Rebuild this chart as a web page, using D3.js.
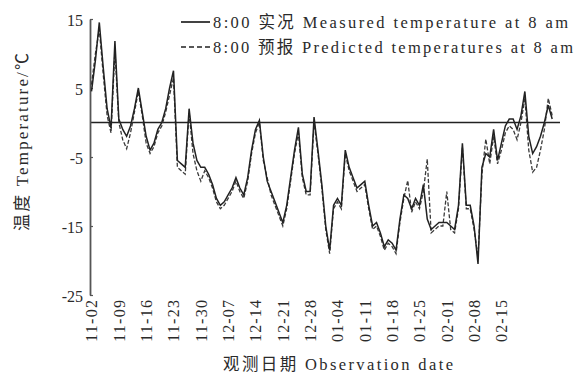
<!DOCTYPE html>
<html>
<head>
<meta charset="utf-8">
<script src="https://cdn.jsdelivr.net/npm/d3@7/dist/d3.min.js"></script>
<style>
  html, body { margin: 0; padding: 0; background: #fff; }
  svg { display: block; }
  text { fill: #2a2a2a; }
</style>
</head>
<body>
<svg id="chart" width="576" height="375"></svg>
<script>
// Daily 8:00 temperatures (°C), one value per day starting 11-02
const startDate = "2010-11-02";
const measured = [
  4.5, 9, 14.5, 8, 2, -0.8, 11.8, 0.5, -1, -2,
  -0.5, 2, 5, 1.5, -2, -4, -3, -1, 0, 2,
  5, 7.5, -5.5, -6, -6.5, 2, -3, -5.5, -6.5, -6.5,
  -7.5, -9, -11, -12, -11.5, -10.5, -9.5, -8, -9.5, -10.5,
  -8, -4, -1, 0.3, -5, -8.5, -10, -11.5, -13, -14.5,
  -12, -8, -4, -0.7, -7.5, -10, -10, 0.8, -4, -9,
  -15, -18.5, -12, -11, -12, -4, -6.5, -8, -9.5, -9,
  -8.5, -12, -15, -14.5, -16, -18, -17, -17.5, -18.5, -14,
  -10.5, -11, -12.5, -11, -12, -9, -14, -15.5, -15, -14.5,
  -14.5, -14.5, -15, -15.5, -12, -3, -12, -12, -15, -20.5,
  -6.5, -4.5, -5, -1, -5.5, -3, -0.5, 0.5, 0.5, -1,
  1, 4.5, -2, -4.5, -3.5, -2, 0, 2.5, 0.5
];
const predicted = [
  5.5, 10, 13.5, 7, 1, -1.5, 10.5, 0, -2.5, -3.8,
  -1.5, 1.5, 4.5, 1, -3, -4.5, -3.5, -1.5, -0.5, 1.5,
  4, 6.5, -6.5, -7, -7.5, 1.5, -4.5, -7, -8.5, -7,
  -8, -9.5, -11.5, -12.5, -12, -11, -10, -8.5, -10, -11,
  -8.5, -4.5, -1.5, 0, -5.5, -8, -10.5, -12, -13.5, -15,
  -12.5, -8.5, -4.5, -1.5, -8, -10.5, -10.5, 0, -4.5, -9.5,
  -15.5, -19, -12.5, -11.5, -12.5, -4.5, -7, -8.5, -10, -9.5,
  -9, -12.5, -15.5, -15, -16.5, -18.5, -17.5, -18, -19, -14.5,
  -11, -8.4, -13, -11.5, -12.5, -10, -5.3, -16, -15.5, -15,
  -15, -10, -15.5, -16, -12.5, -3.5, -12.5, -12.5, -15.5, -19.5,
  -7.5, -2.4, -6, -2, -6, -4, -1.5, -0.5, -1, -2.5,
  0, 3.5, -4, -7.2, -6.5, -4, -1, 3.5, 1
];
const xTickLabels = ["11-02","11-09","11-16","11-23","11-30","12-07","12-14",
  "12-21","12-28","01-04","01-11","01-18","01-25","02-01","02-08","02-15"];
const yTickValues = [15, 5, -5, -15, -25];
const legendLabels = ["8:00 实况 Measured temperature at 8 am",
  "8:00 预报 Predicted temperatures at 8 am"];
const yTitle = "温度 Temperature/℃";
const xTitle = "观测日期 Observation date";

const svg = d3.select("#chart");
const parse = d3.timeParse("%Y-%m-%d");
const t0 = parse(startDate);
const dayOf = i => d3.timeDay.offset(t0, i);
const labelDate = s => {
  const m = +s.slice(0, 2);
  return parse((m >= 11 ? "2010-" : "2011-") + s);
};

const x = d3.scaleTime()
  .domain([t0, d3.timeDay.offset(t0, 120)])
  .range([91.5, 560]);
const y = d3.scaleLinear().domain([-25, 15]).range([295, 19]);

const serif = "'Liberation Serif', 'Noto Sans CJK SC', serif";

// zero reference line
svg.append("line")
  .attr("x1", x.range()[0] - 1.5).attr("x2", x.range()[1])
  .attr("y1", y(0)).attr("y2", y(0))
  .attr("stroke", "#222").attr("stroke-width", 1.7);

// left axis
const yAxis = d3.axisLeft(y).tickValues(yTickValues).tickSizeInner(-3).tickSizeOuter(0)
  .tickFormat(d => d < 0 ? "-" + Math.abs(d) : d);
const gy = svg.append("g").attr("transform", "translate(90,0)").call(yAxis);
gy.select(".domain").attr("stroke", "#555").attr("stroke-width", 1.8);
gy.selectAll(".tick line").attr("stroke", "#555").attr("stroke-width", 1.2);
gy.selectAll(".tick text")
  .attr("x", -7).attr("dy", "0.42em")
  .style("font-family", serif).style("font-size", "16px").attr("fill", "#2a2a2a");

// date tick labels, read upward
const gx = svg.append("g");
gx.selectAll("text").data(xTickLabels).join("text")
  .attr("transform", d => `translate(${x(labelDate(d))},300) rotate(-90)`)
  .attr("text-anchor", "end").attr("dy", "0.36em")
  .attr("textLength", 42).attr("lengthAdjust", "spacing")
  .style("font-family", serif).style("font-size", "16px")
  .text(d => d);

// series lines
const line = d3.line().x((d, i) => x(dayOf(i))).y(d => y(d));
svg.append("path").datum(predicted)
  .attr("d", line).attr("fill", "none")
  .attr("stroke", "#3a3a3a").attr("stroke-width", 1.3)
  .attr("stroke-dasharray", "4,2");
svg.append("path").datum(measured)
  .attr("d", line).attr("fill", "none")
  .attr("stroke", "#222").attr("stroke-width", 1.5);

// legend
const lg = svg.append("g");
const legendLen = [355, 360];
[0, 1].forEach(k => {
  const yy = 22 + k * 25;
  lg.append("line")
    .attr("x1", 181).attr("x2", 210).attr("y1", yy).attr("y2", yy)
    .attr("stroke", "#222").attr("stroke-width", k ? 1.5 : 1.7)
    .attr("stroke-dasharray", k ? "5,3" : null);
  lg.append("text")
    .attr("x", 213).attr("y", yy).attr("dy", "0.36em")
    .attr("textLength", legendLen[k]).attr("lengthAdjust", "spacing")
    .style("font-family", serif).style("font-size", "16.5px")
    .text(legendLabels[k]);
});

// axis titles
svg.append("text")
  .attr("transform", "translate(22,142) rotate(-90)")
  .attr("text-anchor", "middle").attr("dy", "0.36em")
  .attr("textLength", 178).attr("lengthAdjust", "spacing")
  .style("font-family", serif).style("font-size", "17px")
  .text(yTitle);
svg.append("text")
  .attr("x", 338).attr("y", 364).attr("text-anchor", "middle").attr("dy", "0.36em")
  .attr("textLength", 230).attr("lengthAdjust", "spacing")
  .style("font-family", serif).style("font-size", "16.5px")
  .text(xTitle);
</script>
</body>
</html>
